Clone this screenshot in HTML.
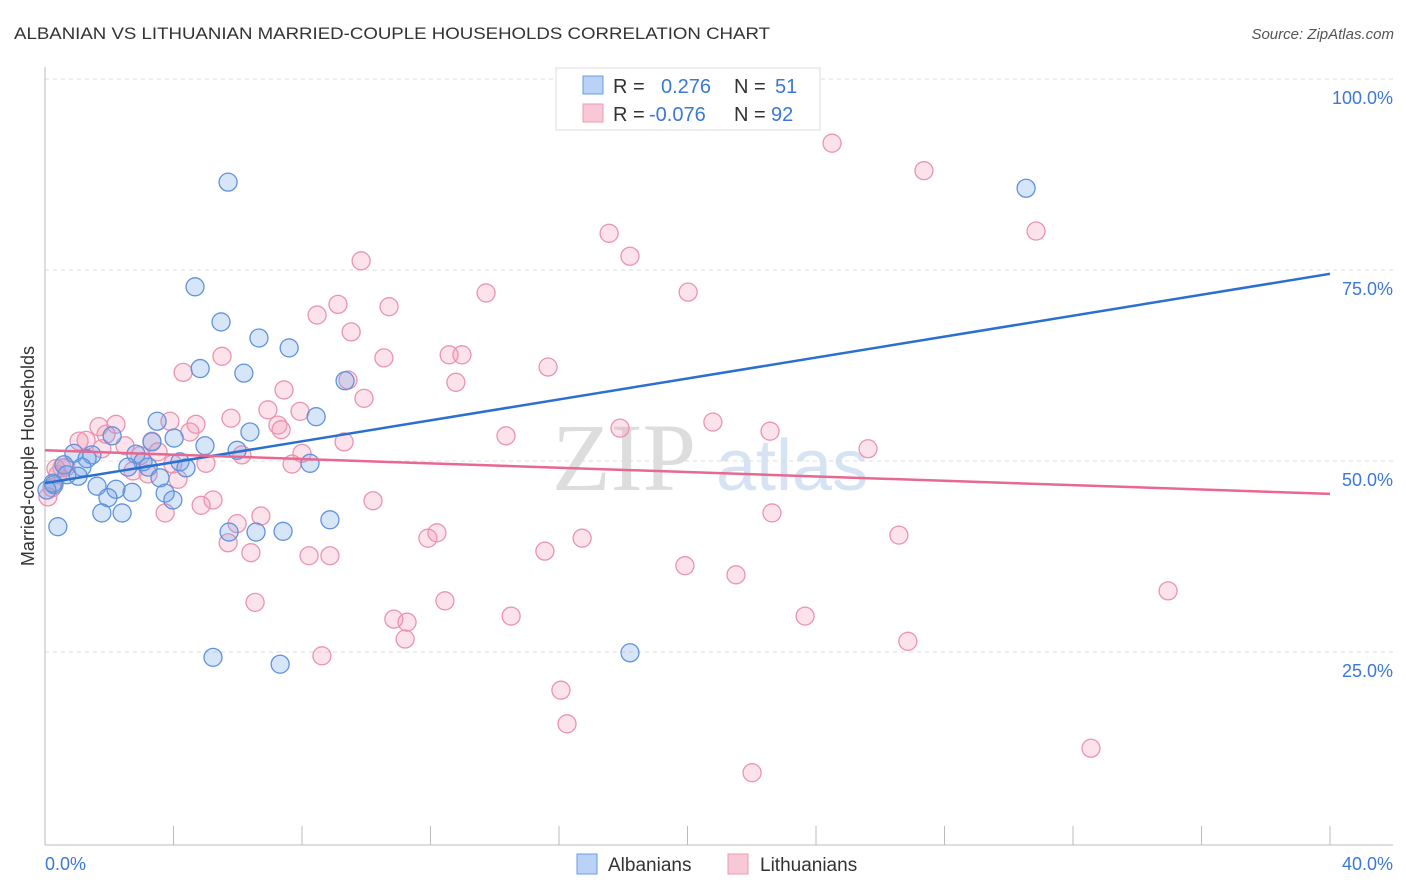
<!DOCTYPE html>
<html><head><meta charset="utf-8"><style>
body{margin:0;background:#fff;font-family:"Liberation Sans",sans-serif}
svg{display:block}
</style></head><body>
<svg id="chart" width="1406" height="892">
<text x="14" y="39" font-size="17" fill="#333" textLength="756" lengthAdjust="spacingAndGlyphs">ALBANIAN VS LITHUANIAN MARRIED-COUPLE HOUSEHOLDS CORRELATION CHART</text>
<text x="1394" y="39" font-size="15" fill="#555" font-style="italic" text-anchor="end">Source: ZipAtlas.com</text>
<g><text x="552" y="490" font-size="96" font-family="Liberation Serif,serif" fill="#ddd">ZIP</text><text x="716" y="490" font-size="72" fill="#d6e3f3">atlas</text></g>
<g id="grid"></g><g id="pts"></g><g id="lines"></g>
<text transform="translate(34,456) rotate(-90)" font-size="18" fill="#333" text-anchor="middle">Married-couple Households</text>
<text x="45" y="870" font-size="18" fill="#3b78d8">0.0%</text>
<text x="1393" y="870" font-size="18" fill="#3b78d8" text-anchor="end">40.0%</text>
<g>
<rect x="556" y="68" width="264" height="62" fill="#fff" stroke="#ddd"/>
<rect x="583" y="76" width="20" height="18" fill="#b9d2f5" stroke="#6a9be0"/>
<rect x="583" y="104" width="20" height="18" fill="#f9c8d6" stroke="#ec9ab3"/>
<text x="613" y="93" font-size="20" fill="#333">R = <tspan fill="#3b78d8" x="661">0.276</tspan><tspan x="734" fill="#333">N = </tspan><tspan fill="#3b78d8" x="775">51</tspan></text>
<text x="613" y="121" font-size="20" fill="#333">R = <tspan fill="#3b78d8" x="649">-0.076</tspan><tspan x="734" fill="#333">N = </tspan><tspan fill="#3b78d8" x="771">92</tspan></text>
</g>
<g>
<rect x="577" y="854" width="20" height="20" fill="#b9d2f5" stroke="#6a9be0"/>
<text x="608" y="871" font-size="19" fill="#333">Albanians</text>
<rect x="728" y="854" width="20" height="20" fill="#f9c8d6" stroke="#ec9ab3"/>
<text x="760" y="871" font-size="19" fill="#333">Lithuanians</text>
</g>
</svg>
<script>
const yTicks=[25,50,75,100];
const yTickLabels=["25.0%","50.0%","75.0%","100.0%"];
const xTicks=[0,4,8,12,16,20,24,28,32,36,40];
const blueX=[5.70,30.54,4.67,5.48,6.66,7.60,4.83,6.19,9.34,3.49,8.44,2.09,4.02,6.38,3.33,4.98,5.98,0.90,1.46,1.31,2.83,3.05,0.59,1.15,4.20,4.39,2.58,3.21,8.25,0.68,1.03,0.28,1.62,2.21,2.71,3.74,1.96,3.98,1.77,2.40,8.87,5.73,6.57,7.41,0.40,5.23,7.32,18.21,0.25,0.06,3.58];
const blueY=[86.5,85.7,72.8,68.2,66.1,64.8,62.1,61.5,60.5,55.2,55.8,53.3,53.0,53.8,52.5,52.0,51.4,51.0,50.8,50.3,50.9,49.9,49.5,49.2,49.9,49.1,49.2,49.2,49.7,48.2,48.0,46.9,46.7,46.3,45.9,45.8,45.2,44.9,43.2,43.2,42.3,40.7,40.7,40.8,41.4,24.3,23.4,24.9,47.1,46.2,47.8];
const pinkX=[24.50,27.36,17.56,30.85,18.21,9.84,13.73,20.02,9.12,10.71,8.47,9.53,5.51,10.55,12.58,12.98,12.79,15.66,9.43,9.93,4.30,7.44,7.94,6.94,5.79,4.70,3.89,2.21,1.68,1.28,1.06,1.90,7.25,7.35,14.35,17.90,20.79,22.57,25.62,3.33,2.49,3.52,4.51,1.77,2.96,3.98,5.01,6.13,8.00,7.69,9.31,2.74,3.21,4.14,0.53,0.40,0.22,0.09,5.23,4.86,10.21,3.74,6.72,22.63,5.98,5.70,6.41,8.22,8.87,11.92,12.20,15.56,16.72,26.58,19.92,21.51,34.96,6.54,12.45,10.86,11.27,14.51,23.66,11.21,26.86,8.62,16.06,16.25,32.56,22.01,0.34,0.65];
const pinkY=[91.6,88.0,79.8,80.1,76.8,76.2,72.0,72.1,70.5,70.2,69.1,66.9,63.7,63.5,63.9,63.9,60.3,62.3,60.6,58.2,61.6,59.3,56.5,56.7,55.6,54.8,55.2,54.8,54.5,52.7,52.6,53.5,54.7,54.1,53.3,54.3,55.1,53.9,51.6,52.6,52.0,51.2,53.8,51.6,50.7,49.6,49.7,50.8,51.0,49.6,52.5,48.7,48.3,47.6,49.1,48.2,46.5,45.3,44.9,44.2,44.8,43.2,42.8,43.2,41.8,39.3,38.0,37.6,37.6,39.9,40.6,38.2,39.9,40.3,36.3,35.1,33.0,31.5,31.7,29.3,28.9,29.7,29.7,26.7,26.4,24.5,20.0,15.6,12.4,9.2,49.0,49.2];
const blueTrend=[47.1,74.5];
const pinkTrend=[51.4,45.7];
const NS="http://www.w3.org/2000/svg";
const X0=45,X1=1330,Y0=843,Y1=79;
const sx=v=>X0+(v/40)*(X1-X0);
const sy=v=>Y0-(v/100)*(Y0-Y1);
function mk(t,a,p){const e=document.createElementNS(NS,t);for(const k in a)e.setAttribute(k,a[k]);p.appendChild(e);return e;}
const grid=document.getElementById('grid');
yTicks.forEach((t,i)=>{
 const l=mk('line',{x1:X0,x2:1393,y1:sy(t),y2:sy(t),stroke:'#ddd','stroke-dasharray':'4,4'},grid);
 
 
 const tx=mk('text',{x:1393,y:sy(t)+25,'font-size':18,fill:'#3b78d8','text-anchor':'end'},grid);
 tx.textContent=yTickLabels[i];
 
 
});
const ax=mk('line',{x1:X0,x2:X0,y1:67,y2:845,stroke:'#bbb'},grid);


const bx=mk('line',{x1:X0,x2:1393,y1:845,y2:845,stroke:'#bbb'},grid);


xTicks.forEach(t=>{
 const l=mk('line',{x1:sx(t),x2:sx(t),y1:826,y2:845,stroke:'#bbb'},grid);
 
 
});
const pts=document.getElementById('pts');
pinkX.forEach((v,i)=>{
 const c=mk('circle',{cx:sx(v),cy:sy(pinkY[i]),r:9,fill:'rgba(244,150,180,0.28)',stroke:'#ec93af','stroke-width':1.3},pts);
 
 
});
blueX.forEach((v,i)=>{
 const c=mk('circle',{cx:sx(v),cy:sy(blueY[i]),r:9,fill:'rgba(110,160,232,0.28)',stroke:'#5f93dc','stroke-width':1.3},pts);
 
 
});
const lines=document.getElementById('lines');
const bl=mk('line',{x1:sx(0),x2:sx(40),y1:sy(blueTrend[0]),y2:sy(blueTrend[1]),stroke:'#2b6fd0','stroke-width':2.5},lines);


const pl=mk('line',{x1:sx(0),x2:sx(40),y1:sy(pinkTrend[0]),y2:sy(pinkTrend[1]),stroke:'#e8688f','stroke-width':2.5},lines);


</script>
</body></html>
